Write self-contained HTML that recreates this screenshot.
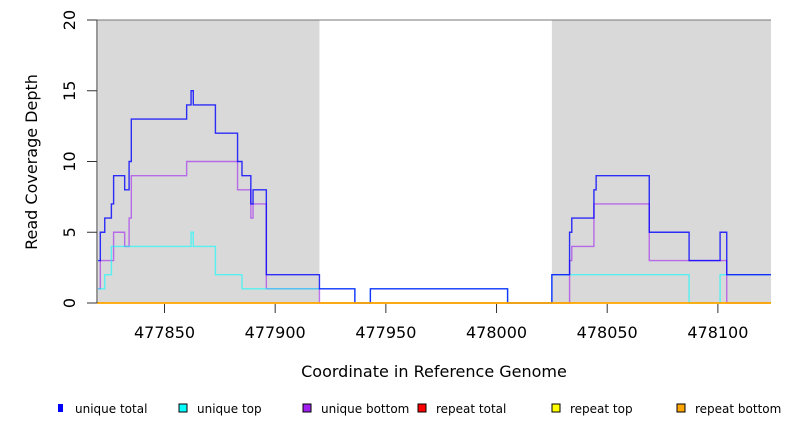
<!DOCTYPE html>
<html><head><meta charset="utf-8">
<style>
body{margin:0;background:#fff;}
svg{display:block;font-family:"DejaVu Sans","Liberation Sans",sans-serif;}
</style></head>
<body>
<svg id="chart" width="792" height="432" viewBox="0 0 792 432"></svg>
<script>
const regionStarts=[477820,478025];
const regionEnds=[477920,478124];
const totalX=[477820,477821,477823,477826,477827,477832,477834,477835,477860,477862,477863,477873,477883,477885,477889,477890,477896,477920,477936,477943,478005,478025,478033,478034,478044,478045,478069,478087,478101,478104];
const totalY=[3,5,6,7,9,8,10,13,14,15,14,12,10,9,7,8,2,1,0,1,0,2,5,6,8,9,5,3,5,2];
const topX=[477820,477823,477826,477862,477863,477873,477885,477936,477943,478005,478025,478087,478101];
const topY=[1,2,4,5,4,2,1,0,1,0,2,0,2];
const botX=[477820,477821,477827,477832,477834,477835,477860,477883,477889,477890,477896,477920,478033,478034,478044,478069,478104];
const botY=[1,3,5,4,6,9,10,8,6,7,1,0,3,4,7,3,0];
const xTicks=[477850,477900,477950,478000,478050,478100];
const yTicks=[0,5,10,15,20];
const legendLabels=["unique total","unique top","unique bottom","repeat total","repeat top","repeat bottom"];
const legendColors=["#0000ff","#00ffff","#a020f0","#ff0000","#ffff00","#ffa500"];

const X0=477819.5,X1=478124,PL=97,PR=771,PT=20,PB=303;
const sx=v=>PL+(v-X0)/(X1-X0)*(PR-PL);
const sy=v=>PB-v/20*(PB-PT);
const NS="http://www.w3.org/2000/svg";
const svg=document.getElementById('chart');
function mk(t,a){const e=document.createElementNS(NS,t);for(const k in a)e.setAttribute(k,a[k]);svg.appendChild(e);return e;}

regionStarts.forEach((s,i)=>{
 const r=mk('rect',{x:sx(s),y:PT,width:sx(regionEnds[i])-sx(s),height:PB-PT,fill:'#d9d9d9'});
 
 
});
const tl=mk('line',{x1:PL,y1:PT,x2:PR,y2:PT,stroke:'#777','stroke-width':1});



function step(xs,ys,color,op,name){
 let d='';
 xs.forEach((x,i)=>{
  const xn=i<xs.length-1?xs[i+1]:X1;
  d+=(i===0?'M':'L')+sx(x)+','+sy(ys[i])+'L'+sx(xn)+','+sy(ys[i]);
 });
 const p=mk('path',{d:d,fill:'none',stroke:color,'stroke-width':1.4,'stroke-opacity':op});
 
 
}
step(botX,botY,'#a020f0',0.6,'unique-bottom-line');
step(topX,topY,'#00ffff',0.6,'unique-top-line');
step(totalX,totalY,'#0000ff',0.8,'unique-total-line');
step([X0],[0],'#ff0000',0.8,'repeat-total-line');
step([X0],[0],'#ffff00',0.8,'repeat-top-line');
step([X0],[0],'#ffa500',0.9,'repeat-bottom-line');

const ya=mk('line',{x1:PL,y1:PT,x2:PL,y2:PB,stroke:'#333'});


yTicks.forEach(v=>{
 const t=mk('line',{x1:PL-10,y1:sy(v),x2:PL,y2:sy(v),stroke:'#333'});
 
 
 const l=mk('text',{x:75,y:sy(v),'font-size':16,'text-anchor':'middle',transform:'rotate(-90 75 '+sy(v)+')'});
 l.textContent=v;
 
 
});
xTicks.forEach(v=>{
 const t=mk('line',{x1:sx(v),y1:PB+1,x2:sx(v),y2:PB+10,stroke:'#333'});
 
 
 const l=mk('text',{x:sx(v),y:338,'font-size':16,'text-anchor':'middle'});
 l.textContent=v;
 
 
});
const xt=mk('text',{x:434,y:377,'font-size':16,'text-anchor':'middle'});
xt.textContent='Coordinate in Reference Genome';


const yt=mk('text',{x:37,y:162,'font-size':16,'text-anchor':'middle',transform:'rotate(-90 37 162)'});
yt.textContent='Read Coverage Depth';



const lx=[57,179,303,418,552,677];
legendLabels.forEach((lab,i)=>{
 const w=i===0?5:8;
 const r=mk('rect',{x:lx[i]+(i===0?1:0),y:404,width:w,height:8,fill:legendColors[i],stroke:i===0?'none':'#000','stroke-width':1});
 
 
 const t=mk('text',{x:lx[i]+18,y:413,'font-size':12});
 t.textContent=lab;
 
 
});
</script>
</body></html>
